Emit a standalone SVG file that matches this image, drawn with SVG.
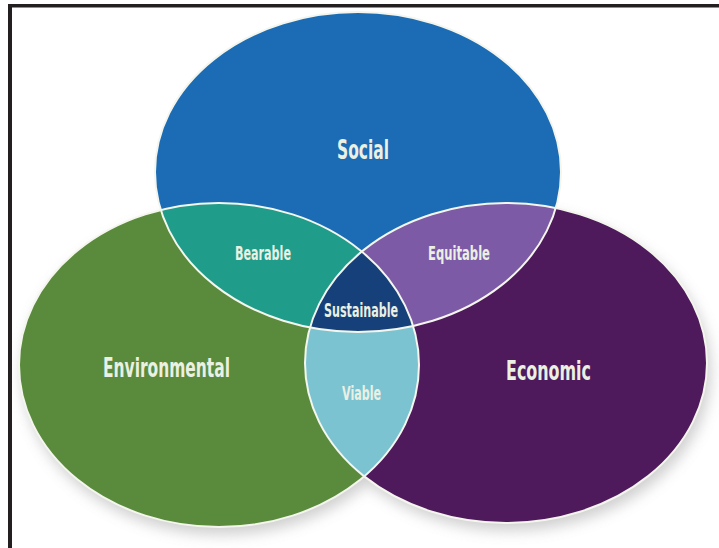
<svg xmlns="http://www.w3.org/2000/svg" width="719" height="548" viewBox="0 0 719 548">
  <style>
    .lbl { font-family: "DejaVu Sans Condensed", "Liberation Sans", sans-serif; font-weight: bold; fill: #eaf0e2; text-anchor: middle; }
    .big { font-size: 27px; }
    .small { font-size: 20px; }
    .rim { fill: none; stroke: #f4f6ee; stroke-width: 2; }
  </style>
  <defs>
    <filter id="shadow" x="-20%" y="-20%" width="140%" height="140%">
      <feGaussianBlur stdDeviation="7"/>
    </filter>
    <clipPath id="clipBlue"><ellipse cx="358" cy="172" rx="203" ry="160"/></clipPath>
    <clipPath id="clipGreen"><ellipse cx="219" cy="365" rx="200" ry="162"/></clipPath>
    <clipPath id="clipPurple"><ellipse cx="506" cy="363" rx="201" ry="160"/></clipPath>
  </defs>

  <rect x="0" y="0" width="719" height="548" fill="#ffffff"/>
  <!-- frame -->
  <rect x="8" y="4" width="4" height="544" fill="#231f20"/>
  <rect x="8" y="4" width="711" height="3.5" fill="#231f20"/>

  <!-- shadows -->
  <g opacity="0.4" filter="url(#shadow)">
    <ellipse cx="222" cy="373" rx="200" ry="162" fill="#8a8a8a"/>
    <ellipse cx="510" cy="371" rx="201" ry="160" fill="#8a8a8a"/>
  </g>

  <g id="environmental">
    <ellipse cx="219" cy="365" rx="200" ry="162" fill="#5a8b3c"/>
  </g>
  <g id="economic">
    <ellipse cx="506" cy="363" rx="201" ry="160" fill="#4e1a5c"/>
  </g>
  <g id="social">
    <ellipse cx="358" cy="172" rx="203" ry="160" fill="#1b6cb4"/>
  </g>

  <g id="bearable">
    <g clip-path="url(#clipBlue)">
      <ellipse cx="219" cy="365" rx="200" ry="162" fill="#1f9c8a"/>
    </g>
  </g>
  <g id="equitable">
    <g clip-path="url(#clipBlue)">
      <ellipse cx="506" cy="363" rx="201" ry="160" fill="#7d5aa6"/>
    </g>
  </g>
  <g id="viable">
    <g clip-path="url(#clipGreen)">
      <ellipse cx="506" cy="363" rx="201" ry="160" fill="#7cc3d2"/>
    </g>
  </g>
  <g id="sustainable">
    <g clip-path="url(#clipBlue)">
      <g clip-path="url(#clipGreen)">
        <ellipse cx="506" cy="363" rx="201" ry="160" fill="#16407a"/>
      </g>
    </g>
  </g>

  <!-- outlines -->
  <g id="connectors">
    <ellipse class="rim" cx="219" cy="365" rx="200" ry="162"/>
    <ellipse class="rim" cx="506" cy="363" rx="201" ry="160"/>
    <ellipse class="rim" cx="358" cy="172" rx="203" ry="160"/>
  </g>

  <!-- labels -->
  <g id="labels">
    <text class="lbl big" x="363" y="159" textLength="52" lengthAdjust="spacingAndGlyphs">Social</text>
    <text class="lbl big" x="166.5" y="377" textLength="127" lengthAdjust="spacingAndGlyphs">Environmental</text>
    <text class="lbl big" x="548.5" y="380" textLength="85" lengthAdjust="spacingAndGlyphs">Economic</text>
    <text class="lbl small" x="263" y="260" textLength="56" lengthAdjust="spacingAndGlyphs">Bearable</text>
    <text class="lbl small" x="459" y="260" textLength="62" lengthAdjust="spacingAndGlyphs">Equitable</text>
    <text class="lbl small" x="361" y="317" textLength="74" lengthAdjust="spacingAndGlyphs">Sustainable</text>
    <text class="lbl small" x="361.5" y="400" textLength="39" lengthAdjust="spacingAndGlyphs">Viable</text>
  </g>
</svg>
